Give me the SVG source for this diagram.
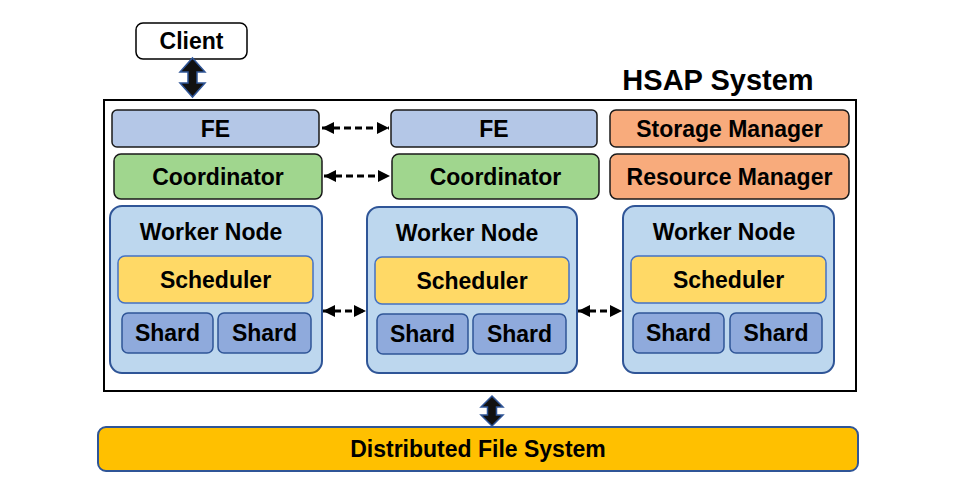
<svg xmlns="http://www.w3.org/2000/svg" width="974" height="498" viewBox="0 0 974 498">
<style>
text{font-family:"Liberation Sans",Arial,sans-serif;font-weight:bold;font-size:23px;fill:#000;text-anchor:middle}
.fe{fill:#B4C7E7;stroke:#1a1a1a;stroke-width:1.5}
.co{fill:#A0D68E;stroke:#1a1a1a;stroke-width:1.5}
.mg{fill:#F8AB7C;stroke:#1a1a1a;stroke-width:1.5}
.wk{fill:#BDD7EE;stroke:#2F5597;stroke-width:2}
.sc{fill:#FFD966;stroke:#4472C4;stroke-width:1.5}
.sh{fill:#8FAADC;stroke:#2F5597;stroke-width:1.5}
.dash{stroke:#000;stroke-width:3;stroke-dasharray:7 4;fill:none;marker-start:url(#ah);marker-end:url(#ah)}
.blk{fill:#111;stroke:#2F5597;stroke-width:1.5}
</style>
<defs>
<marker id="ah" viewBox="0 0 10 10" refX="10" refY="5" markerWidth="4" markerHeight="4" orient="auto-start-reverse" markerUnits="strokeWidth">
<path d="M0,0 L10,5 L0,10 Z" fill="#000"/>
</marker>
</defs>
<rect width="974" height="498" fill="#fff"/>

<g id="system">
<rect x="104" y="100" width="752" height="291" fill="#fff" stroke="#000" stroke-width="2"/>
<text x="718" y="90" style="font-size:29px">HSAP System</text>
</g>

<g id="client">
<rect x="136" y="23" width="111" height="36" rx="7" fill="#fff" stroke="#000" stroke-width="1.5"/>
<text x="191.5" y="49">Client</text>
</g>

<g id="fe1"><rect class="fe" x="112" y="110" width="207" height="37" rx="5"/><text x="215.5" y="137">FE</text></g>
<g id="fe2"><rect class="fe" x="391" y="110" width="206" height="37" rx="5"/><text x="494" y="137">FE</text></g>
<g id="coord1"><rect class="co" x="114" y="154" width="208" height="45" rx="7"/><text x="218" y="185">Coordinator</text></g>
<g id="coord2"><rect class="co" x="392" y="154" width="207" height="45" rx="7"/><text x="495.5" y="185">Coordinator</text></g>
<g id="storage"><rect class="mg" x="610" y="110" width="239" height="37" rx="6"/><text x="729.5" y="137">Storage Manager</text></g>
<g id="resource"><rect class="mg" x="610" y="154" width="239" height="45" rx="7"/><text x="729.5" y="185">Resource Manager</text></g>

<g id="worker1">
<rect class="wk" x="110" y="206" width="212" height="167" rx="12"/>
<text x="211" y="240">Worker Node</text>
<rect class="sc" x="118" y="256" width="195" height="47" rx="7"/>
<text x="215.5" y="288">Scheduler</text>
<rect class="sh" x="122" y="313" width="91" height="40" rx="6"/>
<text x="167.5" y="341">Shard</text>
<rect class="sh" x="218" y="313" width="93" height="40" rx="6"/>
<text x="264.5" y="341">Shard</text>
</g>

<g id="worker2">
<rect class="wk" x="367" y="207" width="210" height="166" rx="12"/>
<text x="467" y="241">Worker Node</text>
<rect class="sc" x="375" y="257" width="194" height="47" rx="7"/>
<text x="472" y="289">Scheduler</text>
<rect class="sh" x="377" y="314" width="91" height="40" rx="6"/>
<text x="422.5" y="342">Shard</text>
<rect class="sh" x="473" y="314" width="93" height="40" rx="6"/>
<text x="519.5" y="342">Shard</text>
</g>

<g id="worker3">
<rect class="wk" x="623" y="206" width="211" height="167" rx="12"/>
<text x="724" y="240">Worker Node</text>
<rect class="sc" x="631" y="256" width="195" height="47" rx="7"/>
<text x="728.5" y="288">Scheduler</text>
<rect class="sh" x="633" y="313" width="91" height="40" rx="6"/>
<text x="678.5" y="341">Shard</text>
<rect class="sh" x="730" y="313" width="92" height="40" rx="6"/>
<text x="776" y="341">Shard</text>
</g>

<g id="dfs">
<rect x="98" y="427" width="760" height="44" rx="8" fill="#FFC000" stroke="#2F5597" stroke-width="2"/>
<text x="478" y="457">Distributed File System</text>
</g>

<g id="connectors">
<line class="dash" x1="322" y1="128" x2="389" y2="128"/>
<line class="dash" x1="324" y1="176" x2="390" y2="176"/>
<line class="dash" x1="323" y1="311" x2="366" y2="311"/>
<line class="dash" x1="578" y1="311" x2="622" y2="311"/>
<path class="blk" d="M192.5,58 L205,72 L197,72 L197,83 L205,83 L192.5,97 L180,83 L188,83 L188,72 L180,72 Z"/>
<path class="blk" d="M492,396 L503,407 L496.5,407 L496.5,415 L503,415 L492,426 L481,415 L487.5,415 L487.5,407 L481,407 Z"/>
</g>
</svg>
